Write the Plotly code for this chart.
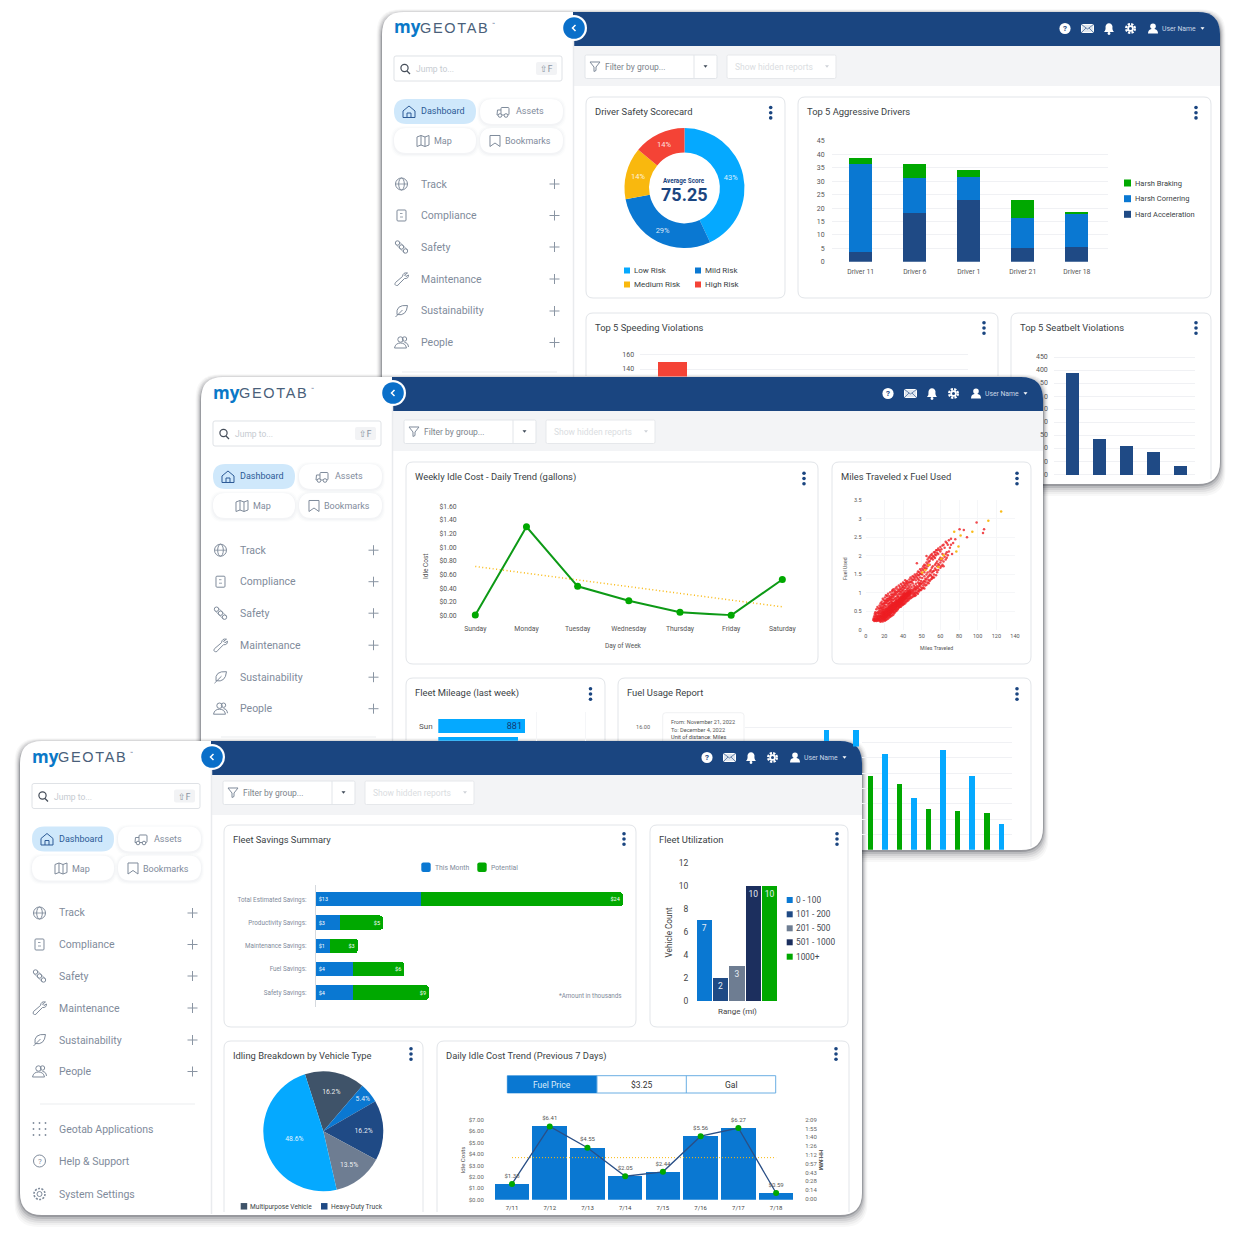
import plotly.graph_objects as go

W, H = 1240, 1238
NAVY, BLUE, SKY, GREEN, SLATE, GREY, RED, AMBER = "#1a4580", "#0a78d2", "#05a9ff", "#00a800", "#3f5369", "#6e7d92", "#f44336", "#f9b80e"
MUTED = "#7f8b9b"

# ---------- chart data ----------
risk_labels = ["Low Risk", "Mild Risk", "Medium Risk", "High Risk"]
risk_values = [43, 29, 14, 14]

aggr_drivers = ["Driver 11", "Driver 6", "Driver 1", "Driver 21", "Driver 18"]
aggr_accel = [3.7, 18.3, 23.0, 5.2, 5.5]
aggr_corner = [32.9, 12.8, 8.7, 11.0, 12.3]
aggr_brake = [2.2, 5.2, 2.4, 6.7, 0.7]

speeding_pos = [0]
speeding_vals = [150]

seatbelt_pos = [0, 1, 2, 3, 4]
seatbelt_vals = [392, 138, 112, 86, 33]

idle_days = ["Sunday", "Monday", "Tuesday", "Wednesday", "Thursday", "Friday", "Saturday"]
idle_cost = [0.01, 1.30, 0.43, 0.22, 0.05, 0.005, 0.53]
idle_trend = [0.72, 0.62, 0.52, 0.43, 0.33, 0.23, 0.13]

red_points = [
 (10,.28),(10.5,.33),(11,.25),(11,.38),(11.5,.30),(12,.26),(12,.34),(12,.42),(12.5,.29),(13,.24),(13,.33),(13,.45),(13.5,.37),(14,.27),(14,.31),
 (14,.41),(14,.52),(14.5,.35),(15,.25),(15,.30),(15,.38),(15,.46),(15.5,.33),(15.5,.55),(16,.28),(16,.36),(16,.43),(16,.50),(16.5,.31),(16.5,.39),
 (17,.27),(17,.34),(17,.42),(17,.48),(17,.60),(17.5,.37),(17.5,.45),(18,.30),(18,.36),(18,.41),(18,.52),(18.5,.34),(18.5,.47),(18.5,.57),(19,.33),
 (19,.39),(19,.44),(19,.50),(19,.63),(19.5,.37),(19.5,.54),(20,.35),(20,.42),(20,.47),(20,.52),(20,.58),(20.5,.40),(20.5,.49),(20.5,.66),(21,.37),
 (21,.44),(21,.51),(21,.56),(21,.61),(21.5,.42),(21.5,.47),(21.5,.70),(22,.40),(22,.46),(22,.53),(22,.59),(22,.64),(22.5,.44),(22.5,.50),(22.5,.56),
 (23,.43),(23,.48),(23,.54),(23,.60),(23,.67),(23,.74),(23.5,.46),(23.5,.52),(23.5,.63),(24,.45),(24,.50),(24,.57),(24,.62),(24,.69),(24.5,.53),
 (24.5,.59),(24.5,.75),(25,.48),(25,.55),(25,.61),(25,.66),(25,.72),(25.5,.51),(25.5,.58),(25.5,.64),(26,.54),(26,.60),(26,.67),(26,.73),(26,.81),
 (26.5,.57),(26.5,.63),(26.5,.70),(27,.56),(27,.62),(27,.68),(27,.75),(27,.84),(27.5,.60),(27.5,.66),(27.5,.72),(28,.58),(28,.64),(28,.70),(28,.77),
 (28.5,.63),(28.5,.69),(28.5,.80),(29,.62),(29,.67),(29,.73),(29,.79),(29,.88),(29.5,.66),(29.5,.71),(29.5,.76),(30,.64),(30,.70),(30,.75),(30,.82),
 (30.5,.68),(30.5,.74),(30.5,.90),(31,.67),(31,.72),(31,.78),(31,.85),(31.5,.71),(31.5,.76),(31.5,.81),(32,.70),(32,.75),(32,.80),(32,.87),(32,.96),
 (32.5,.74),(32.5,.83),(33,.72),(33,.78),(33,.84),(33,.90),(33.5,.76),(33.5,.82),(33.5,.98),(34,.75),(34,.80),(34,.86),(34,.93),(34.5,.79),(34.5,.89),
 (35,.78),(35,.84),(35,.90),(35,.97),(35.5,.82),(35.5,.87),(35.5,1.02),(36,.81),(36,.88),(36,.94),(36.5,.85),(36.5,.92),(36.5,.99),(37,.84),(37,.90),
 (37,.97),(37,1.05),(37.5,.88),(37.5,.95),(38,.87),(38,.93),(38,1.00),(38.5,.91),(38.5,.98),(38.5,1.07),(39,.90),(39,.96),(39,1.03),(39.5,.94),(39.5,1.00),
 (40,.92),(40,.98),(40,1.05),(40,1.12),(40.5,.96),(40.5,1.02),(41,.95),(41,1.00),(41,1.07),(41.5,.99),(41.5,1.04),(42,.97),(42,1.03),(42,1.10),
 (43,1.00),(43,1.06),(43,1.16),(44,1.02),(44,1.08),(44,.90),(45,1.05),(45,1.12),(45,1.20),(46,1.00),(46,1.10),(46,1.17),(47,1.08),(47,1.14),(47,1.25),
 (48,1.12),(48,1.19),(49,1.15),(49,1.05),(49,1.28),(50,1.18),(50,1.24),(50,1.34),(51,1.20),(51,1.27),(52,1.15),(52,1.24),(52,1.32),(53,1.26),(53,1.40),
 (54,1.30),(54,1.20),(55,1.33),(55,1.25),(55,1.45),(56,1.38),(56,1.30),(57,1.36),(57,1.50),(58,1.42),(58,1.55),(59,1.45),(59,1.35),(60,1.50),(60,1.58),
 (61,1.48),(61,1.62),(62,1.55),(62,1.68),(63,1.58),(63,1.72),(64,1.60),(64,1.50),(65,1.66),(65,1.76),(66,1.62),(66,1.80),(67,1.72),(67,1.85),(68,1.78),
 (69,1.75),(69,1.90),(70,1.82),(70,1.95),(71,1.88),(72,1.93),(72,2.05),(73,1.85),(74,1.98),(75,2.05),(75,1.90),(76,2.10),(76,1.95),(77,2.02),(78,2.12),
 (55,1.68),(48,1.80),(57,2.00),(59,1.95),(62,2.05),(65,2.10),(67,2.15),(70,2.12),(38,1.30),(44,1.45),(25,1.07),(62,1.38),(46,.92),(30,.55),(23,.40),
 (88,2.72),(92,2.70),(95,2.50),(104,2.90),(111,2.72),(110,2.62),(84,2.45),(82,2.35),(80,2.30),(76,2.35),(79,2.22),(81,2.05),(74,2.22),(72,2.28),
 (12,.50),(13,.58),(14,.63),(15,.68),(16,.62),(17,.72),(18,.66),(18,.78),(19,.74),(20,.72),(20,.84),(21,.78),(22,.72),(22,.86),(23,.82),(24,.78),
 (24,.90),(25,.82),(25,.96),(26,.90),(27,.94),(27,1.00),(28,.86),(28,.98),(29,.96),(30,.92),(30,1.04),(31,.98),(32,1.04),(32,1.10),(33,1.02),(34,1.06),
 (34,1.14),(35,1.08),(36,1.12),(36,1.20),(37,1.14),(38,1.18),(39,1.12),(39,1.24),(40,1.20),(41,1.16),(41,1.28),(42,1.22),(43,1.30),(44,1.26),(45,1.36),
 (47,1.34),(48,1.42),(49,1.38),(50,1.48),(51,1.42),(52,1.52),(53,1.50),(54,1.62),(55,1.56),(56,1.74),(57,1.66),(58,1.72),(59,1.84),(60,1.76),(61,1.92),
 (63,1.90),(64,1.98),(65,1.94),(66,2.02),(68,2.05),
 (14,.22),(16,.23),(18,.25),(19,.27),(20,.29),(21,.31),(22,.34),(23,.36),(24,.38),(25,.40),(26,.42),(26,.47),(27,.46),(27,.50),(28,.50),(28,.54),(29,.52),
 (29,.57),(30,.58),(31,.60),(31,.62),(32,.62),(32,.66),(33,.63),(33,.68),(34,.66),(34,.70),(35,.68),(35,.72),(36,.70),(36,.75),(37,.72),(37,.78),(38,.76),
 (38,.82),(39,.78),(39,.84),(40,.80),(40,.86),(41,.84),(41,.90),(42,.86),(42,.92),(43,.88),(44,.96),(45,.92),(45,.98),(46,.96),(47,.94),(47,1.02),(48,1.00),
 (49,.98),(50,1.04),(50,1.10),(51,1.08),(52,1.08),(53,1.12),(54,1.14),(55,1.12),(56,1.20),(57,1.22),(58,1.28),(59,1.26),(60,1.32),(61,1.36),(62,1.44),(63,1.42),
 (64,1.42),(66,1.48),(67,1.56),(68,1.62),(70,1.68),(71,1.72),(72,1.76),(73,1.72),
 (11,.30),(12,.30),(13,.28),(13,.38),(14,.35),(14,.46),(15,.34),(15,.42),(15,.50),(16,.32),(16,.40),(16,.47),(17,.30),(17,.38),(17,.45),(17,.54),(18,.33),(18,.39),
 (18,.45),(18,.49),(19,.36),(19,.42),(19,.47),(19,.56),(20,.38),(20,.44),(20,.50),(20,.55),(21,.41),(21,.47),(21,.53),(21,.58),(22,.43),(22,.49),(22,.56),(22,.62),
 (23,.46),(23,.51),(23,.57),(23,.63),(24,.48),(24,.53),(24,.60),(24,.66),(25,.52),(25,.58),(25,.63),(25,.69),(26,.57),(26,.63),(26,.70),(27,.59),(27,.65),(27,.71),
 (28,.61),(28,.67),(28,.73),(29,.65),(29,.70),(29,.76),(30,.67),(30,.73),(30,.78),(31,.70),(31,.75),(31,.81),(32,.72),(32,.78),(32,.83),(33,.75),(33,.81),(33,.87),
 (34,.77),(34,.83),(34,.89),(35,.81),(35,.87),(35,.93),(36,.84),(36,.90),(36,.97),(37,.87),(37,.93),(38,.90),(38,.96),(39,.93),(39,.99),(40,.95),(40,1.01),(41,.98),(41,1.03),
 # lower-left tail and the upper side of the cloud
 (7,.27),(7.5,.32),(8,.24),(8,.30),(8,.37),(8.5,.27),(8.5,.43),(9,.25),(9,.31),(9,.36),(9,.48),(9.5,.29),(9.5,.41),(10,.24),(10,.37),(10,.45),(10,.56),(11,.33),(11,.47),(11,.62),
 (12,.38),(12,.46),(12,.58),(13,.52),(13,.66),(14,.58),(14,.72),(15,.60),(15,.76),(16,.55),(16,.70),(16,.84),(17,.66),(17,.80),(18,.72),(18,.88),(19,.80),(19,.94),(20,.78),(20,.92),
 (21,.84),(21,.98),(22,.80),(22,.92),(23,.88),(23,1.02),(24,.84),(24,.96),(25,.90),(25,1.04),(26,.96),(26,1.10),(27,1.06),(28,1.04),(28,1.12),(29,1.02),(29,1.16),(30,1.10),(31,1.06),
 (31,1.20),(32,1.16),(33,1.10),(33,1.24),(34,1.20),(35,1.16),(35,1.28),(36,1.26),(37,1.22),(37,1.34),(38,1.26),(39,1.32),(40,1.28),(41,1.36),(42,1.30),(42,1.42),(43,1.38),(44,1.34),
 (45,1.44),(46,1.40),(46,1.50),(47,1.46),(48,1.52),(49,1.48),(49,1.58),(50,1.56),(51,1.52),(51,1.64),(52,1.60),(53,1.66),(54,1.72),(55,1.76),(56,1.66),(57,1.82),(58,1.78),(58,1.90),
 (60,1.86),(60,1.98),(61,2.02),(62,1.94),(63,2.00),(64,2.10),(65,2.04),(66,2.15),(67,2.08),(68,2.20),(69,2.16),(70,2.24),(71,2.18),(73,2.30),(75,2.38),(77,2.30),(78,2.42),(80,2.46),
]
yellow_points = [(83,2.65),(89,2.55),(87,2.25),(85,2.12),(100,2.65),(115,2.95),(127,3.20),(71,1.92),(56,1.62),(53,1.55),(73,2.02),(68,1.70),(59,1.75)]
scatter_miles = [p[0] for p in red_points]
scatter_fuel = [p[1] for p in red_points]
scatter2_miles = [p[0] for p in yellow_points]
scatter2_fuel = [p[1] for p in yellow_points]
miles_tick_pos = [0, 17.5, 35, 52.5, 70, 87.5, 105, 122.5, 140]
miles_tick_text = ["0", "20", "40", "50", "60", "80", "100", "120", "140"]

mileage_pos = [0, 1]
mileage_vals = [881, 810]
mileage_text = ["881", ""]

fuel_blue_pos = [0, 1, 2, 3, 4, 5, 6]
fuel_blue = [15.65, 15.6, 12.47, 6.76, 13.03, 9.63, 3.4]
fuel_green_pos = [1.5, 2.5, 3.5, 4.5, 5.5]
fuel_green = [9.59, 8.55, 5.32, 5.0, 4.84]

sav_cats = ["Total Estimated Savings:", "Productivity Savings:", "Maintenance Savings:", "Fuel Savings:", "Safety Savings:"]
sav_month = [12.7, 2.93, 1.72, 4.53, 4.53]
sav_pot = [24.3, 5.18, 3.34, 6.14, 9.12]
sav_month_text = ["$13", "$3", "$1", "$4", "$4"]
sav_pot_text = ["$24", "$5", "$3", "$6", "$9"]

util_ranges = ["0 - 100", "101 - 200", "201 - 500", "501 - 1000", "1000+"]
util_counts = [7, 2, 3, 10, 10]
util_colors = [BLUE, "#1f4a85", GREY, "#1c2f5e", GREEN]

idling_types = ["Multipurpose Vehicle", "Light-Duty Truck", "Heavy-Duty Truck", "Van", "Passenger Car"]
idling_counts = [6, 2, 6, 5, 18]
idling_colors = [SLATE, BLUE, "#1f4a85", GREY, SKY]

daily_dates = ["7/11", "7/12", "7/13", "7/14", "7/15", "7/16", "7/17", "7/18"]
daily_cost = [1.38, 6.41, 4.55, 2.05, 2.44, 5.56, 6.27, 0.59]
daily_text = ["$1.38", "$6.41", "$4.55", "$2.05", "$2.44", "$5.56", "$6.27", "$0.59"]
daily_avg = [3.68] * 8
hhmm_ticks = ["0:00", "0:14", "0:28", "0:43", "0:57", "1:12", "1:26", "1:40", "1:55", "2:09"]
hhmm_pos = list(range(10))

nav_items = ["Track", "Compliance", "Safety", "Maintenance", "Sustainability", "People"]

# ---------- drawing helpers ----------
fig = go.Figure()
shapes, ann, axes_cfg = [], [], {}
X = lambda v: v / W
Y = lambda v: 1 - v / H


def P(d, cx=0, cy=0, fill=None, line=None, lw=1, dash=None):
    toks, out, i = d.split(), [], 0
    while i < len(toks):
        if toks[i].isalpha():
            out.append(toks[i]); i += 1
        else:
            out.append(f"{X(cx + float(toks[i])):.5f},{Y(cy + float(toks[i + 1])):.5f}"); i += 2
    ln = dict(color=line or "rgba(0,0,0,0)", width=lw if line else 0)
    if dash:
        ln["dash"] = dash
    shapes.append(dict(type="path", path=" ".join(out), xref="paper", yref="paper", layer="below",
                       fillcolor=fill or "rgba(0,0,0,0)", line=ln))


def C(cx, cy, rx, ry=None, fill=None, line=None, lw=1, dash=None):
    ry = rx if ry is None else ry
    ln = dict(color=line or "rgba(0,0,0,0)", width=lw if line else 0)
    if dash:
        ln["dash"] = dash
    shapes.append(dict(type="circle", xref="paper", yref="paper", layer="below", x0=X(cx - rx), x1=X(cx + rx),
                       y0=Y(cy + ry), y1=Y(cy - ry), fillcolor=fill or "rgba(0,0,0,0)", line=ln))


def L(x0, y0, x1, y1, color=MUTED, lw=1, dash=None):
    ln = dict(color=color, width=lw)
    if dash:
        ln["dash"] = dash
    shapes.append(dict(type="line", xref="paper", yref="paper", layer="below", x0=X(x0), x1=X(x1), y0=Y(y0), y1=Y(y1), line=ln))


def RR(x0, y0, x1, y1, r=4, fill=None, line=None, lw=1):
    if not isinstance(r, (tuple, list)):
        r = (r, r, r, r)
    tl, tr, br, bl = r
    d = (f"M {x0+tl} {y0} L {x1-tr} {y0} Q {x1} {y0} {x1} {y0+tr} L {x1} {y1-br} Q {x1} {y1} {x1-br} {y1} "
         f"L {x0+bl} {y1} Q {x0} {y1} {x0} {y1-bl} L {x0} {y0+tl} Q {x0} {y0} {x0+tl} {y0} Z")
    P(d, fill=fill, line=line, lw=lw)


def T(x, y, s, size=9, color="#333333", anchor="left", bold=False, angle=0, family="Roboto"):
    x = x - 1 if anchor == "left" else x + 1 if anchor == "right" else x
    ann.append(dict(x=X(x), y=Y(y), xref="paper", yref="paper", text=f"<b>{s}</b>" if bold else s, showarrow=False,
                    xanchor=anchor, yanchor="middle", borderpad=0, textangle=angle,
                    font=dict(size=size, color=color, family=family)))


_n = [0]


def AX(x0, x1, y0, y1, xc=None, yc=None):
    _n[0] += 1
    n = _n[0]
    base = dict(showgrid=False, zeroline=False, showline=False, showticklabels=False, ticks="", fixedrange=True, automargin=False)
    xa = dict(base, domain=[X(x0), X(x1)], anchor=f"y{n}")
    ya = dict(base, domain=[Y(y1), Y(y0)], anchor=f"x{n}")
    xa.update(xc or {})
    ya.update(yc or {})
    axes_cfg[f"xaxis{n}"] = xa
    axes_cfg[f"yaxis{n}"] = ya
    return f"x{n}", f"y{n}"


def tickstyle(size=7, color="#555555", ticklen=3):
    return dict(showticklabels=True, ticks="outside", ticklen=ticklen, tickcolor="rgba(0,0,0,0)", tickwidth=1,
                tickfont=dict(size=size, color=color, family="Roboto"))


GRID = dict(showgrid=True, gridcolor="#f0f1f4", gridwidth=1)
FAINT = dict(showgrid=True, gridcolor="#f5f6f8", gridwidth=1)


# icons
def ic_plus(x, y):
    L(x - 5, y, x + 5, y, "#8a95a3", 1); L(x, y - 5, x, y + 5, "#8a95a3", 1)


def ic_globe(x, y, c=MUTED):
    C(x, y, 6, line=c); C(x, y, 2.8, 6, line=c); L(x - 6, y, x + 6, y, c, .8)


def ic_doc(x, y, c=MUTED):
    RR(x - 4.5, y - 5.5, x + 4.5, y + 5.5, 1, line=c); L(x - 1.5, y - 2, x + 1, y - 2, c, .8); L(x - 1.5, y + 1.5, x + 1.5, y + 1.5, c, .8)


def ic_chain(x, y, c=MUTED):
    for d in (-4, 0, 4):
        C(x + d, y + d, 2.2, line=c)
    P("M -5 -2 L 3 6 M -2 -5 L 6 3", x, y, line=c, lw=.8)


def ic_wrench(x, y, c=MUTED):
    P("M 6 -6 Q 1.5 -7 1 -2.5 L -6 3.5 Q -7.5 6 -5 6.5 Q -3.5 7 -2.5 5 L 3 -.5 Q 7 0 7 -4 L 4.5 -2.5 L 3 -4 Z", x, y, line=c)


def ic_leaf(x, y, c=MUTED):
    P("M 6 -5.5 Q -6 -6.5 -4.5 3.5 Q 5 5.5 6 -5.5 Z M -6 6 L 1 -1", x, y, line=c)


def ic_people(x, y, c=MUTED):
    C(x - 1, y - 3, 2.7, line=c); C(x + 3, y - 3.5, 2.2, line=c)
    P("M -7 5.5 Q -6 .5 -1 .5 Q 4 .5 5 5.5 Z M 3 0 Q 6.5 0 7 4.5", x, y, line=c)


def ic_home(x, y, c="#2c5a96"):
    P("M -6 -1 L 0 -6 L 6 -1 L 6 5.5 L -6 5.5 Z M -2 5.5 L -2 1 L 2 1 L 2 5.5", x, y, line=c)


def ic_truck(x, y, c=MUTED):
    RR(x - 2, y - 4.5, x + 6, y + 3, 1, line=c); P("M -2 -2 L -5.5 -2 L -6 3 L -2 3", x, y, line=c); C(x - 3, y + 3.5, 1.8, fill="#fff", line=c); C(x + 3, y + 3.5, 1.8, fill="#fff", line=c)


def ic_map(x, y, c=MUTED):
    P("M -6 -4 L -2 -5.5 L 2 -4 L 6 -5.5 L 6 4 L 2 5.5 L -2 4 L -6 5.5 Z M -2 -5.5 L -2 4 M 2 -4 L 2 5.5", x, y, line=c)


def ic_bookmark(x, y, c=MUTED):
    P("M -5 -5.5 L 5 -5.5 L 5 5.5 L 0 2 L -5 5.5 Z", x, y, line=c)


def ic_gear_line(x, y, c=MUTED):
    C(x, y, 5.5, line=c, lw=1.6, dash="2px,1.4px"); C(x, y, 2.5, line=c)


def kebab(x, y):
    for d in (-5.2, 0, 5.2):
        C(x, y + d, 1.8, fill=NAVY)


def card(x0, y0, x1, y1, title, dots_x=None, dots_y=None, open_bottom=False):
    ln = "#e2e5e9"
    if open_bottom:
        RR(x0, y0, x1, y1, (7, 7, 0, 0), fill="#ffffff")
        P(f"M {x0} {y1} L {x0} {y0+7} Q {x0} {y0} {x0+7} {y0} L {x1-7} {y0} Q {x1} {y0} {x1} {y0+7} L {x1} {y1}", line=ln)
    else:
        RR(x0, y0, x1, y1, 7, fill="#ffffff", line=ln)
    T(x0 + 9, y0 + 14.5, title, 9.4, "#3a3f45")
    if dots_x:
        kebab(dots_x, dots_y)


def swatch(x, y, color, s=6):
    shapes.append(dict(type="rect", xref="paper", yref="paper", layer="below", x0=X(x), x1=X(x + s), y0=Y(y + s / 2), y1=Y(y - s / 2),
                       fillcolor=color, line=dict(width=0)))


def window(x0, y0, x1, y1, nav_extra=False, side=191, top_dy=0, nav_dy=0):
    for e, a in [(12, .03), (10, .04), (8, .06), (6, .08), (4, .12), (2, .2)]:
        RR(x0 - e * .45, y0 + 2 - e * .4, x1 + e * .45, y1 + e, 24, fill=f"rgba(20,25,35,{a})")
    RR(x0, y0, x1, y1, 22, fill="#ffffff")
    sx = x0 + side
    # content top
    P(f"M {sx} {y0+34} L {x1} {y0+34} L {x1} {y0+74} L {sx} {y0+74} Z", fill="#f3f4f6")
    RR(sx, y0, x1, y0 + 34, (0, 22, 0, 0), fill=NAVY)
    L(sx + .5, y0 + 13, sx + .5, y1 - 1, "#e9ebee", 1.5)
    C(sx + 1, y0 + 16, 13, fill="#ffffff")
    C(sx + 1, y0 + 16, 10.8, fill="#0a6fc9")
    P("M 1.5 -3 L -1.5 0 L 1.5 3", sx + 1, y0 + 16, line="#ffffff", lw=1.5)
    # logo
    T(x0 + 11.5, y0 + 15, "my", 17, "#0a78c8", bold=True, family="Open Sans")
    T(x0 + 72.6, y0 + 16, "GEOTAB", 14.5, "#4a5f7a", anchor="center", family="Liberation Sans")
    T(x0 + 110, y0 + 12, "™", 5, "#46607f")
    # search
    sy = y0 + top_dy
    RR(x0 + 12, sy + 44, x0 + 180, sy + 69, 2, fill="#ffffff", line="#dfe2e6")
    C(x0 + 22.5, sy + 56, 3.6, line="#444c58", lw=1.2)
    L(x0 + 25, sy + 59, x0 + 28, sy + 62, "#444c58", 1.3)
    T(x0 + 34, sy + 57, "Jump to...", 8.5, "#c6cbd1")
    RR(x0 + 154, sy + 50, x0 + 175, sy + 63, 2, fill="#f2f3f5")
    T(x0 + 164.5, sy + 57, "⇧F", 9, "#8a95a3", anchor="center", family="DejaVu Sans")
    # pills
    for (a, b, c, d, fill) in [(12, 94, 87, 112, "#cfe8fb"), (98, 181, 87, 112, "#ffffff"), (12, 94, 116, 141, "#ffffff"), (98, 181, 116, 141, "#ffffff")]:
        if fill == "#ffffff":
            for e, al in [(3, .012), (2, .018), (1, .025)]:
                RR(x0 + a - e, sy + c - e + 1, x0 + b + e, sy + d + e + 1, 13, fill=f"rgba(40,60,90,{al})")
        RR(x0 + a, sy + c, x0 + b, sy + d, 12.5, fill=fill)
    ic_home(x0 + 27, sy + 100)
    T(x0 + 38.5, sy + 99, "Dashboard", 9, "#2c5a96")
    ic_truck(x0 + 121, sy + 100)
    T(x0 + 134, sy + 99, "Assets", 9, MUTED)
    ic_map(x0 + 41, sy + 129)
    T(x0 + 52, sy + 129, "Map", 9, MUTED)
    ic_bookmark(x0 + 113, sy + 129)
    T(x0 + 123, sy + 129, "Bookmarks", 9, MUTED)
    # nav
    fns = [ic_globe, ic_doc, ic_chain, ic_wrench, ic_leaf, ic_people]
    for name, yy, fn in zip(nav_items, [172, 203.5, 235, 267, 299, 330.5], fns):
        fn(x0 + 19.5, y0 + yy + nav_dy)
        T(x0 + 38.5, y0 + yy + nav_dy, name, 10.5, MUTED)
        ic_plus(x0 + 172.5, y0 + yy + nav_dy)
    # filter bar
    fy = y0 + (43 if y0 < 700 else 40)
    RR(x0 + 203, fy, x0 + 335, fy + 23.5, 1.5, fill="#ffffff", line="#e2e5e9")
    L(x0 + 312, fy, x0 + 312, fy + 23.5, "#e2e5e9")
    P("M -5 -4.5 L 5 -4.5 L 1 .5 L 1 4 L -1 5 L -1 .5 Z", x0 + 213, fy + 11.5, line=MUTED)
    T(x0 + 223, fy + 11.5, "Filter by group...", 8.5, "#7d848c")
    P("M -2 -1.2 L 2 -1.2 L 0 1.3 Z", x0 + 323.5, fy + 11.5, fill="#3d4856")
    RR(x0 + 345, fy, x0 + 454, fy + 23.5, 1.5, fill="#ffffff", line="#e6e8eb")
    T(x0 + 352.5, fy + 11.5, "Show hidden reports", 8.5, "#dadde1")
    P("M -2 -1.2 L 2 -1.2 L 0 1.3 Z", x0 + 445, fy + 11.5, fill="#cfd3d8")
    # header icons
    hy = y0 + 16.5
    C(x1 - 155, hy, 5.6, fill="#ffffff")
    T(x1 - 155, hy, "?", 8, NAVY, anchor="center", bold=True)
    RR(x1 - 138.5, hy - 4, x1 - 126.5, hy + 4, 1, fill="#dfe6ef", line="#ffffff")
    P(f"M {x1-138.5} {hy-4} L {x1-132.5} {hy+.5} L {x1-126.5} {hy-4} M {x1-138.5} {hy+4} L {x1-134} {hy-.5} M {x1-126.5} {hy+4} L {x1-131} {hy-.5}", line=NAVY, lw=.6)
    P("M -5 3.5 Q -3 2 -3.5 -2 Q -3 -5 0 -5.3 Q 3 -5 3.5 -2 Q 3 2 5 3.5 Z", x1 - 111, hy, fill="#ffffff")
    C(x1 - 111, hy + 5, 1.4, fill="#ffffff")
    C(x1 - 89.5, hy, 4.3, fill=NAVY, line="#ffffff", lw=2.4, dash="2.2px,1.2px")
    C(x1 - 89.5, hy, 3.2, fill="#ffffff")
    C(x1 - 89.5, hy, 1.5, fill=NAVY)
    C(x1 - 67, hy - 2.2, 2.8, fill="#ffffff")
    P("M -5 5 Q -5 1 -1.5 .5 L 1.5 .5 Q 5 1 5 5 Z", x1 - 67, hy, fill="#ffffff")
    T(x1 - 58, hy, "User Name", 6.8, "#c9d6e6")
    P("M -2 -1.2 L 2 -1.2 L 0 1.3 Z", x1 - 17.5, hy, fill="#ffffff")
    if nav_extra:
        L(x0 + 20, y0 + 363, x0 + 175, y0 + 363, "#eceef0", 1.2)
        for i in range(3):
            for j in range(3):
                C(x0 + 13.5 + 6 * i, y0 + 382 + 6 * j, .9, fill=MUTED)
        T(x0 + 38.5, y0 + 388.5, "Geotab Applications", 10.5, MUTED)
        C(x0 + 19.5, y0 + 420, 6, line=MUTED)
        T(x0 + 19.5, y0 + 420, "?", 8, MUTED, anchor="center")
        T(x0 + 38.5, y0 + 420.5, "Help &amp; Support", 10.5, MUTED)
        ic_gear_line(x0 + 19.5, y0 + 453)
        T(x0 + 38.5, y0 + 453, "System Settings", 10.5, MUTED)
    else:
        L(x0 + 20, y0 + 360, x0 + 175, y0 + 360, "#eceef0", 1.2)


# ---------- window 1 ----------
window(382, 12, 1220, 484)
card(586, 97, 785, 298, "Driver Safety Scorecard", 770.7, 112.7)
card(798, 97, 1211, 298, "Top 5 Aggressive Drivers", 1196, 112.7)
card(586, 313, 998, 376, "Top 5 Speeding Violations", 984, 328, open_bottom=True)
card(1011, 313, 1211, 479, "Top 5 Seatbelt Violations", 1196, 328, open_bottom=True)

fig.add_trace(go.Pie(labels=risk_labels, values=risk_values, hole=.59, sort=False, direction="clockwise", rotation=0,
                     domain=dict(x=[X(624.5), X(744.5)], y=[Y(248), Y(128)]), marker=dict(colors=[SKY, BLUE, AMBER, RED]),
                     texttemplate="%{percent:.0%}", textposition="inside", insidetextorientation="horizontal",
                     textfont=dict(size=7.5, color="rgba(255,255,255,.85)", family="Roboto"), showlegend=False, automargin=False))
T(684, 181, "Average Score", 6.3, NAVY, anchor="center", bold=True)
T(684.5, 194.5, "75.25", 18, NAVY, anchor="center", bold=True)
for (sx, sy, c, lab) in [(624, 270.5, SKY, risk_labels[0]), (695, 270.5, BLUE, risk_labels[1]), (624, 284.5, AMBER, risk_labels[2]), (695, 284.5, RED, risk_labels[3])]:
    swatch(sx, sy, c)
    T(sx + 9.5, sy, lab, 8, "#3a3f45")

xa, ya = AX(832, 1108, 141, 261.7,
            dict(tickstyle(6.8, "#555", 3.5), type="category", range=[-0.53, 4.577]),
            dict(tickstyle(7, "#555", 5), **GRID, range=[0, 45], dtick=5))
for vals, c, nm in [(aggr_accel, "#1f4a85", "Hard Acceleration"), (aggr_corner, BLUE, "Harsh Cornering"), (aggr_brake, GREEN, "Harsh Braking")]:
    fig.add_trace(go.Bar(x=aggr_drivers, y=vals, xaxis=xa, yaxis=ya, marker_color=c, width=.426, name=nm, showlegend=False))
for yy, c, nm in [(183, GREEN, "Harsh Braking"), (198.7, BLUE, "Harsh Cornering"), (214.3, "#1f4a85", "Hard Acceleration")]:
    swatch(1124, yy, c, 7)
    T(1135.3, yy, nm, 7.5, "#3a3f45")

xa, ya = AX(640, 968, 347, 376.5, dict(range=[-0.5, 4.5]),
            dict(tickstyle(7, "#555", 3.5), **GRID, tickvals=[140, 160], range=[140 - 7.5 / .725, 160 + 7.5 / .725]))
fig.add_trace(go.Bar(x=speeding_pos, y=speeding_vals, xaxis=xa, yaxis=ya, marker_color=RED, width=.44, showlegend=False))

xa, ya = AX(1054, 1195, 350, 481, dict(range=[-0.685, 4.54]),
            dict(**GRID, dtick=50, range=[(474.7 - 481) / .26, (474.7 - 350) / .26]))
fig.add_trace(go.Bar(x=seatbelt_pos, y=seatbelt_vals, xaxis=xa, yaxis=ya, marker_color="#1f4a85", width=.456, showlegend=False))
T(1048, 357.3, "450", 7, "#555", anchor="right")
T(1048, 370.3, "400", 7, "#555", anchor="right")

# ---------- window 2 ----------
window(201, 377, 1043, 850, nav_dy=1.2)
card(406, 462, 818, 664, "Weekly Idle Cost - Daily Trend (gallons)", 804, 478.5)
card(832, 462, 1031, 664, "Miles Traveled x Fuel Used", 1017, 478.5)
card(406, 678, 605, 740, "Fleet Mileage (last week)", 590.5, 694, open_bottom=True)
card(618, 678, 1031, 847, "Fuel Usage Report", 1017, 694, open_bottom=True)
for yy, tick in [(383, "50"), (396.7, "0"), (409, "0"), (422, "0"), (435, "50"), (448, "0"), (461.7, "0"), (474.7, "0")]:
    T(1048, yy, tick, 7, "#555", anchor="right")

xa, ya = AX(461, 800, 506.3, 615.7,
            dict(tickstyle(6.8, "#555", 6), type="category", range=[(461 - 475.3) / 51.17, (800 - 475.3) / 51.17]),
            dict(tickstyle(6.8, "#555", 2), range=[0, 1.6], dtick=.2, tickformat="$.2f"))
fig.add_trace(go.Scatter(x=idle_days, y=idle_trend, xaxis=xa, yaxis=ya, mode="lines", line=dict(color=AMBER, width=1.5, dash="1px,2.5px"), showlegend=False, cliponaxis=False))
fig.add_trace(go.Scatter(x=idle_days, y=idle_cost, xaxis=xa, yaxis=ya, mode="lines+markers", line=dict(color="#0d9a16", width=2),
                         marker=dict(size=7, color=GREEN), showlegend=False, cliponaxis=False))
T(426, 566, "Idle Cost", 6.5, "#555", anchor="center", angle=-90)
T(623.5, 646, "Day of Week", 6.5, "#555", anchor="center")

xa, ya = AX(865.7, 1015, 500.3, 630,
            dict(tickstyle(5.5, "#555", 0), **FAINT, range=[0, 140], tickvals=miles_tick_pos, ticktext=miles_tick_text),
            dict(tickstyle(5.5, "#555", 2), **FAINT, range=[0, 3.5], dtick=.5))
fig.add_trace(go.Scatter(x=scatter_miles, y=scatter_fuel, xaxis=xa, yaxis=ya, mode="markers", marker=dict(size=2.5, color="rgba(238,30,35,.8)"), showlegend=False))
fig.add_trace(go.Scatter(x=scatter2_miles, y=scatter2_fuel, xaxis=xa, yaxis=ya, mode="markers", marker=dict(size=2.5, color="rgba(249,184,14,.95)"), showlegend=False))
T(845, 568, "Fuel Used", 5.2, "#555", anchor="center", angle=-90)
T(936.5, 648.3, "Miles Traveled", 5.2, "#555", anchor="center")

xa, ya = AX(438.3, 590, 712, 740.7,
            dict(**FAINT, range=[0, 151.7 / .0984], tickvals=[1000, 1500]),
            dict(tickstyle(8, "#555", 3), tickvals=[0], ticktext=["Sun"], range=[(740.7 - 726.2) / 18, (712 - 726.2) / 18]))
fig.add_trace(go.Bar(x=mileage_vals, y=mileage_pos, orientation="h", xaxis=xa, yaxis=ya, marker_color=SKY, width=.76, showlegend=False,
                     text=mileage_text, textposition="inside", insidetextanchor="end", textangle=0, constraintext="none",
                     textfont=dict(size=9, color="#123a75", family="Roboto")))

RR(662.7, 712.7, 744, 760, 3, fill="#ffffff", line="#f0f1f3")
T(671, 722, "From: November 21, 2022", 5.6, "#555")
T(671, 729.5, "To: December 4, 2022", 5.6, "#555")
T(671, 737, "Unit of distance: Miles", 5.6, "#444")
T(650, 727.3, "16.00", 5.6, "#666", anchor="right")


def fuel_panel(x0, x1, y0, y1, grid=True):
    g = dict(GRID, dtick=2, tick0=0) if grid else {}
    xa, ya = AX(x0, x1, y0, y1, dict(range=[(x0 - 826.7) / 29.1, (x1 - 826.7) / 29.1]),
                dict(g, range=[(849.7 - y1) / 7.65, (849.7 - y0) / 7.65]))
    fig.add_trace(go.Bar(x=fuel_blue_pos, y=fuel_blue, xaxis=xa, yaxis=ya, marker_color=SKY, width=.19, showlegend=False))
    fig.add_trace(go.Bar(x=fuel_green_pos, y=fuel_green, xaxis=xa, yaxis=ya, marker_color=GREEN, width=.19, showlegend=False))


fuel_panel(745, 1012, 722, 741)
fuel_panel(862, 1012, 741, 849.7)
fuel_panel(853, 859, 741, 746.5, grid=False)

# ---------- window 3 ----------
window(20, 741, 862, 1215, nav_extra=True, top_dy=-1.5)
card(224, 825, 636, 1027, "Fleet Savings Summary", 624, 839)
card(650, 825, 848, 1027, "Fleet Utilization", 837, 839)
card(224, 1041, 423, 1212, "Idling Breakdown by Vehicle Type", 411, 1054, open_bottom=True)
card(437, 1041, 849, 1212, "Daily Idle Cost Trend (Previous 7 Days)", 836, 1054, open_bottom=True)

RR(421.3, 862.5, 430.7, 872, 2, fill=BLUE)
T(434.7, 867.5, "This Month", 6.8, MUTED)
RR(477.3, 862.5, 486.7, 872, 2, fill=GREEN)
T(490.7, 867.5, "Potential", 6.8, MUTED)
T(621.7, 995.7, "*Amount in thousands", 6.3, MUTED, anchor="right")
xa, ya = AX(315.7, 625, 885, 1006.7,
            dict(range=[0, 309.3 / 8.3]),
            dict(tickstyle(6.3, MUTED, 7), type="category", showline=True, linecolor="#d5d9de", linewidth=1, range=[(1006.7 - 899.3) / 23.3, (885 - 899.3) / 23.3]))
fig.add_trace(go.Bar(x=sav_month, y=sav_cats, orientation="h", xaxis=xa, yaxis=ya, marker_color=BLUE, width=.61, showlegend=False, name="This Month",
                     text=sav_month_text, textposition="inside", insidetextanchor="start", textangle=0, constraintext="none",
                     textfont=dict(size=5.5, color="#ffffff", family="Roboto")))
fig.add_trace(go.Bar(x=sav_pot, y=sav_cats, orientation="h", xaxis=xa, yaxis=ya, marker=dict(color=GREEN, cornerradius=3), width=.61, showlegend=False, name="Potential",
                     text=sav_pot_text, textposition="inside", insidetextanchor="end", textangle=0, constraintext="none",
                     textfont=dict(size=5.5, color="#ffffff", family="Roboto")))

xa, ya = AX(696.1, 777.8, 862.7, 1001,
            dict(type="category", range=[-.5, 4.5]),
            dict(tickstyle(8.5, "#444", 5), range=[0, 12], dtick=2))
fig.add_trace(go.Bar(x=util_ranges, y=util_counts, xaxis=xa, yaxis=ya, marker=dict(color=util_colors), width=.94, showlegend=False,
                     text=[str(v) for v in util_counts], textposition="inside", insidetextanchor="end", textangle=0, constraintext="none",
                     textfont=dict(size=8.5, color="#e6edf5", family="Roboto")))
T(668.5, 932, "Vehicle Count", 8.2, "#444", anchor="center", angle=-90)
T(737, 1011.7, "Range (mi)", 8, "#444", anchor="center")
for yy, c, nm in zip([900, 914.3, 928.3, 942.3, 956.7], util_colors, util_ranges):
    swatch(786.7, yy, c)
    T(796, yy, nm, 8.3, "#3f4852")

fig.add_trace(go.Pie(labels=idling_types, values=idling_counts, sort=False, direction="clockwise", rotation=-17.8,
                     domain=dict(x=[X(263.3), X(383.3)], y=[Y(1191.3), Y(1071.3)]), marker=dict(colors=idling_colors),
                     texttemplate="%{percent:.1%}", textposition="inside", insidetextorientation="horizontal",
                     textfont=dict(size=6.8, color="rgba(255,255,255,.9)", family="Roboto"), showlegend=False, automargin=False))
swatch(240.7, 1206.3, SLATE, 6.5)
T(250, 1206.5, "Multipurpose Vehicle", 6.6, "#3a3f45")
swatch(321, 1206.3, "#1f4a85", 6.5)
T(330.7, 1206.5, "Heavy-Duty Truck", 6.6, "#3a3f45")

RR(507.3, 1075.7, 775.7, 1093, 0, fill="#ffffff", line="#6aaee3", lw=1)
P("M 507.3 1075.7 L 597 1075.7 L 597 1093 L 507.3 1093 Z", fill=BLUE)
L(597, 1075.7, 597, 1093, "#6aaee3")
L(686.3, 1075.7, 686.3, 1093, "#6aaee3")
T(552, 1084.5, "Fuel Price", 8.5, "#d9ecfb", anchor="center")
T(641.7, 1084.5, "$3.25", 8.5, "#333", anchor="center")
T(731, 1084.5, "Gal", 8.5, "#333", anchor="center")

xa, ya = AX(489, 796, 1119.7, 1199.7,
            dict(tickstyle(6, "#444", 2.5), type="category", range=[(489 - 512) / 37.73, (796 - 512) / 37.73]),
            dict(tickstyle(6, "#666", 3), range=[0, 7], dtick=1, tickformat="$.2f"))
fig.add_trace(go.Bar(x=daily_dates, y=daily_cost, xaxis=xa, yaxis=ya, marker_color=BLUE, width=.915, showlegend=False))
fig.add_trace(go.Scatter(x=daily_dates, y=daily_avg, xaxis=xa, yaxis=ya, mode="lines", line=dict(color=AMBER, width=1, dash="1px,2px"), showlegend=False))
fig.add_trace(go.Scatter(x=daily_dates, y=daily_cost, xaxis=xa, yaxis=ya, mode="lines+markers+text", line=dict(color="#2a4f86", width=1.3),
                         marker=dict(size=6, color=GREEN), text=daily_text, textposition="top center", cliponaxis=False,
                         textfont=dict(size=6, color="#555", family="Roboto"), showlegend=False))
_n[0] += 1
n2 = _n[0]
axes_cfg[f"yaxis{n2}"] = dict(tickstyle(6, "#666", 7), overlaying=ya, side="right", anchor=xa, range=[-.1, 9], fixedrange=True, showgrid=False, zeroline=False,
                              automargin=False, tickvals=hhmm_pos, ticktext=hhmm_ticks)
fig.add_trace(go.Scatter(x=daily_dates[:1], y=hhmm_pos[:1], xaxis=xa, yaxis=f"y{n2}", mode="markers", marker=dict(size=1, opacity=0), showlegend=False, hoverinfo="skip"))
T(462.3, 1160, "Idle Costs", 6, "#555", anchor="center", angle=-90)
T(822.3, 1160, "HH:MM", 6, "#444", anchor="center", angle=90, bold=True)

fig.update_layout(template="none", width=W, height=H, margin=dict(l=0, r=0, t=0, b=0, pad=0), paper_bgcolor="#ffffff", plot_bgcolor="rgba(0,0,0,0)",
                  barmode="stack", showlegend=False, shapes=shapes, annotations=ann, font=dict(family="Roboto"), **axes_cfg)

post = """
document.body.style.margin='0';document.body.style.overflow='hidden';
document.querySelectorAll('.annotation-text').forEach(function(t){if(t.textContent==='GEOTAB'){t.style.letterSpacing='1.7px';}});
"""
fig.write_html("out.html", post_script=post, config=dict(displayModeBar=False))
